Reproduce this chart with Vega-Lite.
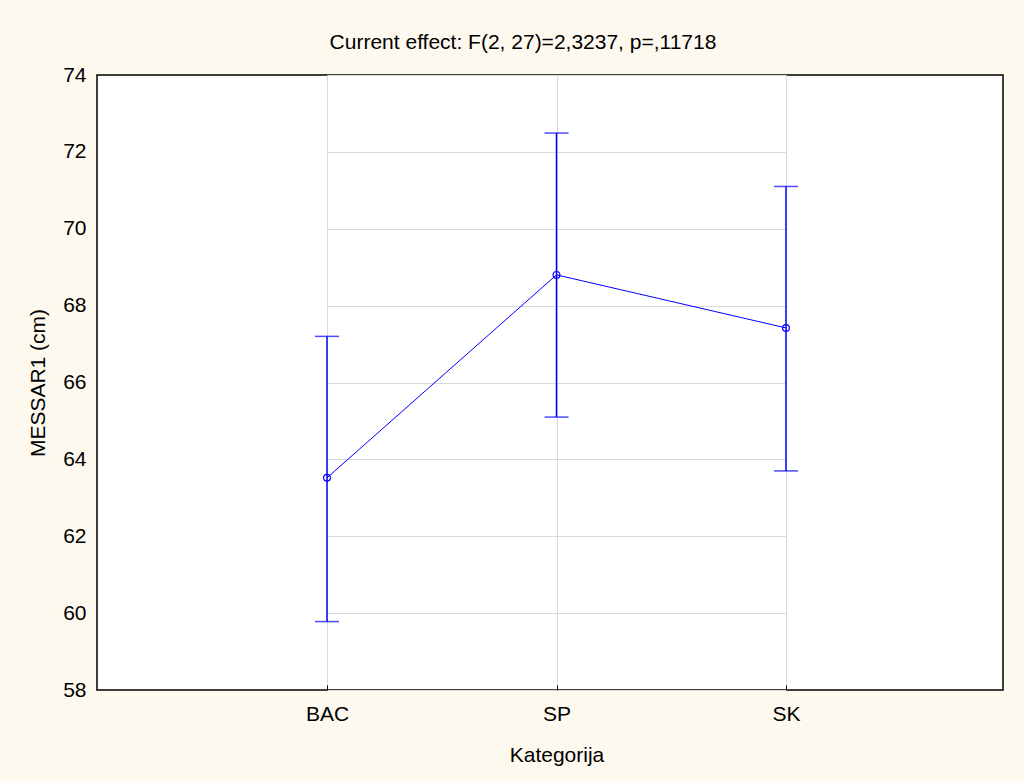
{
  "$schema": "https://vega.github.io/schema/vega-lite/v6.json",
  "width": 906,
  "height": 615,
  "autosize": {"type": "none"},
  "padding": {"left": 97, "top": 75, "right": 21, "bottom": 91},
  "background": "#fef9ef",
  "title": {
    "text": "Current effect: F(2, 27)=2,3237, p=,11718",
    "font": "Liberation Sans",
    "fontSize": 21,
    "fontWeight": "normal",
    "color": "#000000",
    "anchor": "middle",
    "offset": 11,
    "dx": -27
  },
  "config": {
    "view": {"fill": "#ffffff", "stroke": "#000000", "strokeWidth": 1.5},
    "axis": {
      "labelFont": "Liberation Sans",
      "titleFont": "Liberation Sans",
      "labelFontSize": 21,
      "titleFontSize": 21,
      "titleFontWeight": "normal",
      "labelColor": "#000000",
      "titleColor": "#000000",
      "gridColor": "#d9d9d9",
      "gridWidth": 1,
      "gridOpacity": 1,
      "domain": false
    }
  },
  "data": {
    "values": [
      {"Kategorija": "BAC", "mean": 63.52, "lo": 59.78, "hi": 67.2},
      {"Kategorija": "SP", "mean": 68.8, "lo": 65.1, "hi": 72.49},
      {"Kategorija": "SK", "mean": 67.42, "lo": 63.7, "hi": 71.1}
    ]
  },
  "encoding": {
    "x": {
      "field": "Kategorija",
      "type": "nominal",
      "sort": ["BAC", "SP", "SK"],
      "scale": {"type": "point", "range": [230, 689], "padding": 0},
      "axis": {
        "title": "Kategorija",
        "labelAngle": 0,
        "grid": true,
        "ticks": true,
        "tickSize": -5,
        "tickColor": "#000000",
        "labelPadding": 18,
        "titlePadding": 20
      }
    }
  },
  "layer": [
    {
      "mark": {"type": "rule", "color": "#0000ff", "strokeWidth": 1.5},
      "encoding": {
        "y": {
          "field": "lo",
          "type": "quantitative",
          "scale": {"domain": [58, 74], "nice": false, "zero": false},
          "axis": {
            "title": "MESSAR1 (cm)",
            "values": [58, 60, 62, 64, 66, 68, 70, 72, 74],
            "ticks": false,
            "labelPadding": 11,
            "titlePadding": 14,
            "grid": true
          }
        },
        "y2": {"field": "hi"}
      }
    },
    {
      "mark": {"type": "tick", "color": "#0000ff", "size": 24, "thickness": 1.5, "orient": "horizontal"},
      "encoding": {"y": {"field": "lo", "type": "quantitative"}}
    },
    {
      "mark": {"type": "tick", "color": "#0000ff", "size": 24, "thickness": 1.5, "orient": "horizontal"},
      "encoding": {"y": {"field": "hi", "type": "quantitative"}}
    },
    {
      "mark": {"type": "line", "color": "#0000ff", "strokeWidth": 1},
      "encoding": {"y": {"field": "mean", "type": "quantitative"}}
    },
    {
      "mark": {"type": "point", "color": "#0000ff", "filled": false, "size": 45, "strokeWidth": 1.2, "opacity": 1},
      "encoding": {"y": {"field": "mean", "type": "quantitative"}}
    }
  ]
}
